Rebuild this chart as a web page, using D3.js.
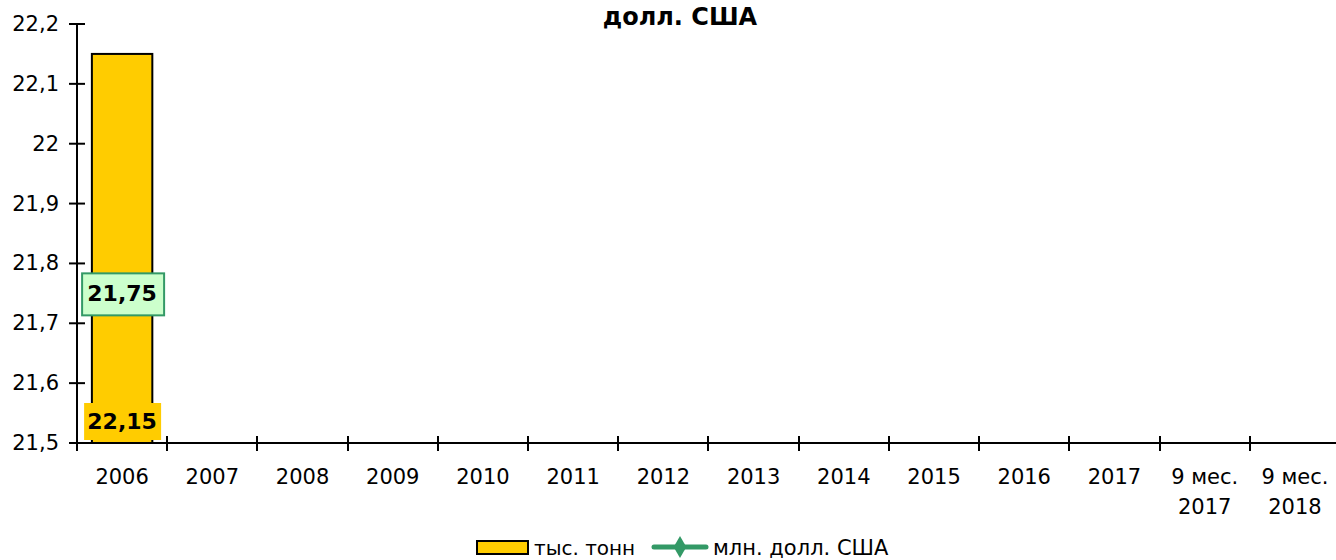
<!DOCTYPE html>
<html>
<head>
<meta charset="utf-8">
<script src="https://cdn.jsdelivr.net/npm/d3@7"></script>
<style>
  body { margin: 0; background: #fff; }
  svg { display: block; font-family: "DejaVu Sans", Verdana, sans-serif; }
</style>
</head>
<body>
<svg id="chart" width="1336" height="560"></svg>
<script>
var categories = ["2006", "2007", "2008", "2009", "2010", "2011", "2012", "2013", "2014", "2015", "2016", "2017", "9 мес.|2017", "9 мес.|2018"];
var tons = [22.15, null, null, null, null, null, null, null, null, null, null, null, null, null];
var usd = [21.75, null, null, null, null, null, null, null, null, null, null, null, null, null];
var yTicks = [21.5, 21.6, 21.7, 21.8, 21.9, 22, 22.1, 22.2];

var svg = d3.select("#chart");
var fmt = function(v){ return String(v).replace(".", ","); };

var x = d3.scaleBand().domain(categories).range([77, 1340]).paddingInner(0.33).paddingOuter(0.165);
var xb = d3.scaleBand().domain(categories).range([77, 1340]);
var y = d3.scaleLinear().domain([21.5, 22.2]).range([443, 24]);

// title (first line sits above the picture)
svg.append("text")
    .attr("x", 680).attr("y", 25)
    .attr("text-anchor", "middle")
    .style("font-size", "24px").style("font-weight", "bold")
    .text("долл. США");

// bars
svg.selectAll(".bar")
    .data(categories.map(function(c, i){ return {c: c, v: tons[i]}; }).filter(function(d){ return d.v != null; }))
    .enter()
    .append("rect")
    .attr("class", "bar")
    .attr("x", function(d){ return x(d.c); })
    .attr("width", x.bandwidth())
    .attr("y", function(d){ return y(d.v); })
    .attr("height", function(d){ return y(21.5) - y(d.v); })
    .style("fill", "#ffcc00")
    .style("stroke", "#000")
    .style("stroke-width", 2);

// y axis
svg.append("line")
    .attr("x1", 77).attr("x2", 77).attr("y1", 24).attr("y2", 443)
    .style("stroke", "#000").style("stroke-width", 2);
svg.selectAll(".ytick")
    .data(yTicks)
    .enter()
    .append("line")
    .attr("x1", 69).attr("x2", 85)
    .attr("y1", function(d){ return y(d); })
    .attr("y2", function(d){ return y(d); })
    .style("stroke", "#000").style("stroke-width", 2);
svg.selectAll(".ylab")
    .data(yTicks)
    .enter()
    .append("text")
    .attr("x", 59)
    .attr("y", function(d){ return y(d) + 7; })
    .attr("text-anchor", "end")
    .style("font-size", "21px")
    .text(function(d){ return fmt(d); });

// x axis
svg.append("line")
    .attr("x1", 77).attr("x2", 1336).attr("y1", 443).attr("y2", 443)
    .style("stroke", "#000").style("stroke-width", 2);
svg.selectAll(".xtick")
    .data(categories)
    .enter()
    .append("line")
    .attr("x1", function(d){ return Math.round(xb(d) + xb.bandwidth()); })
    .attr("x2", function(d){ return Math.round(xb(d) + xb.bandwidth()); })
    .attr("y1", 436).attr("y2", 451)
    .style("stroke", "#000").style("stroke-width", 2);
svg.append("line")
    .attr("x1", 77).attr("x2", 77).attr("y1", 443).attr("y2", 451)
    .style("stroke", "#000").style("stroke-width", 2);

var xl = svg.selectAll(".xlab")
    .data(categories)
    .enter()
    .append("text")
    .attr("text-anchor", "middle")
    .attr("transform", function(d){ return "translate(" + (xb(d) + xb.bandwidth() / 2) + ",484)"; })
    .style("font-size", "21px");
xl.selectAll("tspan")
    .data(function(d){ return d.split("|"); })
    .enter()
    .append("tspan")
    .attr("x", 0)
    .attr("dy", function(d, i){ return i ? 30 : 0; })
    .text(function(d){ return d; });

// line series (only one point)
var pts = categories.map(function(c, i){ return {c: c, v: usd[i]}; }).filter(function(d){ return d.v != null; });
svg.selectAll(".pt")
    .data(pts)
    .enter()
    .append("path")
    .attr("d", d3.symbol(d3.symbolDiamond, 80))
    .attr("transform", function(d){ return "translate(" + (xb(d.c) + xb.bandwidth() / 2) + "," + y(d.v) + ")"; })
    .style("fill", "#339966");

// bar value labels
var barLab = svg.selectAll(".blab")
    .data(categories.map(function(c, i){ return {c: c, v: tons[i]}; }).filter(function(d){ return d.v != null; }))
    .enter()
    .append("g")
    .attr("transform", function(d){ return "translate(" + (xb(d.c) + xb.bandwidth() / 2) + "," + (y(21.5) - 22) + ")"; });
barLab.append("rect")
    .attr("x", -38).attr("y", -18).attr("width", 77).attr("height", 37)
    .style("fill", "#ffcc00");
barLab.append("text")
    .attr("text-anchor", "middle").attr("y", 8)
    .style("font-size", "22px").style("font-weight", "bold")
    .text(function(d){ return fmt(d.v); });

// line value labels
var lineLab = svg.selectAll(".llab")
    .data(pts)
    .enter()
    .append("g")
    .attr("transform", function(d){ return "translate(" + (xb(d.c) + xb.bandwidth() / 2) + "," + y(d.v) + ")"; });
lineLab.append("rect")
    .attr("x", -40).attr("y", -20).attr("width", 82).attr("height", 42)
    .style("fill", "#ccffcc")
    .style("stroke", "#339966").style("stroke-width", 2);
lineLab.append("text")
    .attr("text-anchor", "middle").attr("y", 8)
    .style("font-size", "22px").style("font-weight", "bold")
    .text(function(d){ return fmt(d.v); });

// legend
var lg = svg.append("g").attr("transform", "translate(0,-3)");
lg.append("rect")
    .attr("x", 477).attr("y", 544).attr("width", 51).attr("height", 13)
    .style("fill", "#ffcc00").style("stroke", "#000").style("stroke-width", 2);
lg.append("text")
    .attr("x", 534).attr("y", 558)
    .style("font-size", "20px")
    .text("тыс. тонн");
lg.append("line")
    .attr("x1", 654).attr("x2", 706).attr("y1", 550).attr("y2", 550)
    .style("stroke", "#339966").style("stroke-width", 5).style("stroke-linecap", "round");
lg.append("path")
    .attr("d", d3.symbol(d3.symbolDiamond, 140))
    .attr("transform", "translate(680,550)")
    .style("fill", "#339966");
lg.append("text")
    .attr("x", 713).attr("y", 558)
    .style("font-size", "21px")
    .text("млн. долл. США");
</script>
</body>
</html>
